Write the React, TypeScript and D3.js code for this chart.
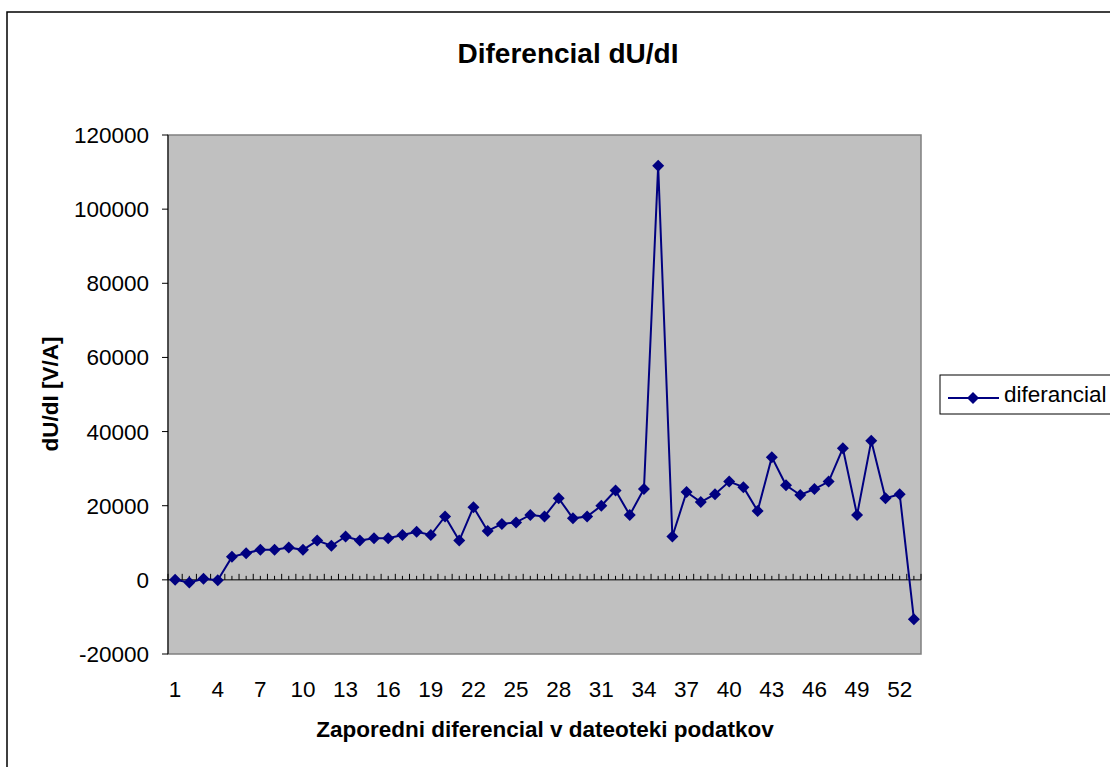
import React from "react";
import * as d3 from "d3";

const categories: number[] = d3.range(1, 54);
const values: number[] = [
  0, -700, 300, -100, 6200, 7200, 8100, 8100, 8700, 8100,
  10600, 9200, 11700, 10600, 11200, 11200, 12100, 13000, 12100, 17100,
  10600, 19600, 13200, 15100, 15500, 17500, 17100, 22000, 16600, 17100,
  20000, 24100, 17500, 24500, 111700, 11700, 23700, 21000, 23100, 26500,
  25000, 18600, 33100, 25500, 22900, 24500, 26500, 35500, 17500, 37500,
  22000, 23100, -10600,
];
const yTicks: number[] = [-20000, 0, 20000, 40000, 60000, 80000, 100000, 120000];
const xLabelEvery = 3;
const title = "Diferencial dU/dI";
const xTitle = "Zaporedni diferencial v dateoteki podatkov";
const yTitle = "dU/dI [V/A]";
const seriesName = "diferancial";

const W = 1110, H = 767;
const plot = { left: 168, top: 135, right: 921, bottom: 654 };
const FONT = "Arial, 'Liberation Sans', sans-serif";
const NAVY = "#000080";

export default function App() {
  const x = d3.scaleBand<number>().domain(categories).range([plot.left, plot.right]);
  const cx = (c: number) => (x(c) as number) + x.bandwidth() / 2;
  const y = d3.scaleLinear().domain([-20000, 120000]).range([plot.bottom, plot.top]);
  const line = d3.line<number>().x((_, i) => cx(categories[i])).y((v) => y(v));
  const diamond = (px: number, py: number, r = 6) =>
    `M${px},${py - r}L${px + r},${py}L${px},${py + r}L${px - r},${py}Z`;
  const y0 = y(0);
  const bw = x.bandwidth();
  const smallTicks: { px: number; major: boolean }[] = [];
  categories.forEach((c) => {
    smallTicks.push({ px: x(c) as number, major: true });
    smallTicks.push({ px: (x(c) as number) + bw / 2, major: false });
  });
  smallTicks.push({ px: plot.right, major: true });

  return (
    <svg width={W} height={H} style={{ position: "absolute", left: 0, top: 0 }} fontFamily={FONT}>
      <rect x={0} y={0} width={W} height={H} fill="#fff" />
      <rect x={7} y={12} width={W + 20} height={H + 20} fill="#fff" stroke="#000" strokeWidth={1.5} />
      <text x={568} y={63} textAnchor="middle" fontSize={28} fontWeight="bold">{title}</text>
      <rect x={plot.left} y={plot.top} width={plot.right - plot.left} height={plot.bottom - plot.top}
        fill="#C0C0C0" stroke="#808080" strokeWidth={1.5} />
      {/* y axis */}
      <line x1={plot.left} x2={plot.left} y1={plot.top} y2={plot.bottom} stroke="#000" strokeWidth={1} />
      {yTicks.map((t) => (
        <g key={t}>
          <line x1={plot.left - 6} x2={plot.left} y1={y(t)} y2={y(t)} stroke="#000" strokeWidth={1} />
          <text x={149} y={y(t) + 8} textAnchor="end" fontSize={22.5}>{t}</text>
        </g>
      ))}
      {/* category axis at zero */}
      <line x1={plot.left} x2={plot.right} y1={y0} y2={y0} stroke="#000" strokeWidth={1} />
      {smallTicks.map((t, i) => (
        <line key={i} x1={t.px} x2={t.px} y1={y0} y2={y0 - (t.major ? 6 : 4)} stroke="#000" strokeWidth={1} />
      ))}
      {categories.filter((c) => (c - 1) % xLabelEvery === 0).map((c) => (
        <text key={c} x={cx(c)} y={697} textAnchor="middle" fontSize={22.5}>{c}</text>
      ))}
      <path d={line(values) || ""} fill="none" stroke={NAVY} strokeWidth={2} />
      {values.map((v, i) => (
        <path key={i} d={diamond(cx(categories[i]), y(v))} fill={NAVY} />
      ))}
      <text x={545} y={737} textAnchor="middle" fontSize={22.5} fontWeight="bold">{xTitle}</text>
      <text transform={`translate(58,394) rotate(-90)`} textAnchor="middle" fontSize={22.5} fontWeight="bold">{yTitle}</text>
      {/* legend */}
      <rect x={940} y={375} width={200} height={39} fill="#fff" stroke="#000" strokeWidth={1} />
      <line x1={948} x2={999} y1={398} y2={398} stroke={NAVY} strokeWidth={2} />
      <path d={diamond(973, 398, 6)} fill={NAVY} />
      <text x={1004} y={402} fontSize={22.5}>{seriesName}</text>
    </svg>
  );
}
